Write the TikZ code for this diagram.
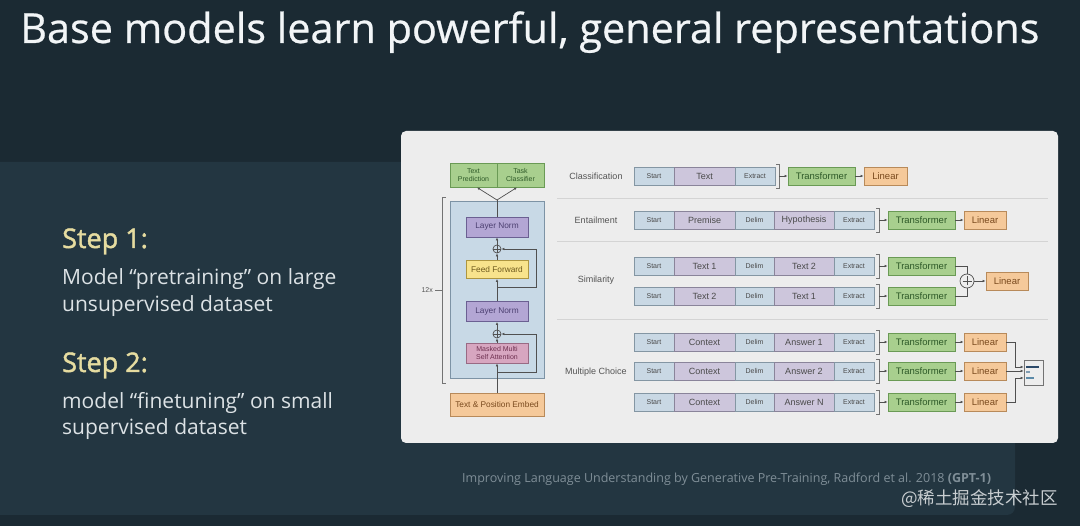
\documentclass[tikz,border=0pt]{standalone}
\usepackage{fontspec}
\setmainfont{Open Sans}
\newfontfamily\slidefont{Open Sans}
\newfontfamily\titlefont[FakeBold=0.6]{Open Sans}
\newfontfamily\stepfont[FakeBold=1.6]{Open Sans}
\newfontfamily\figfont{Liberation Sans}
\newfontfamily\cjkfont{Noto Sans CJK SC}
\usetikzlibrary{arrows.meta,calc}
\definecolor{bgdark}{HTML}{1B2A33}
\definecolor{panel}{HTML}{233641}
\definecolor{card}{HTML}{EDEDED}
\definecolor{titlec}{HTML}{F2F5F7}
\definecolor{stepc}{HTML}{E6DCA0}
\definecolor{bodyc}{HTML}{DCE2E5}
\definecolor{citec}{HTML}{7F8E97}
\definecolor{wmc}{HTML}{C9CED1}
\definecolor{tokb}{HTML}{C9D8E4}
\definecolor{tokbd}{HTML}{8496A3}
\definecolor{tokp}{HTML}{CDC6DC}
\definecolor{tokpd}{HTML}{8A849A}
\definecolor{grn}{HTML}{A8CF8E}
\definecolor{grnd}{HTML}{6A9A55}
\definecolor{grnt}{HTML}{2E5A28}
\definecolor{org}{HTML}{F5C99A}
\definecolor{orgd}{HTML}{B88A5A}
\definecolor{orgt}{HTML}{7A4A1E}
\definecolor{lnp}{HTML}{B3A6D4}
\definecolor{lnpd}{HTML}{6B6092}
\definecolor{lnpt}{HTML}{4B3F70}
\definecolor{ffy}{HTML}{F8E38C}
\definecolor{ffyd}{HTML}{AE9640}
\definecolor{ffyt}{HTML}{6E5A1E}
\definecolor{attp}{HTML}{D7A6C0}
\definecolor{attpd}{HTML}{996A84}
\definecolor{attpt}{HTML}{6E3050}
\definecolor{blk}{HTML}{C8D9E6}
\definecolor{blkd}{HTML}{7D93A5}
\definecolor{linec}{HTML}{505050}
\definecolor{sepc}{HTML}{D4D4D4}
\definecolor{labc}{HTML}{555555}
\definecolor{tokt}{HTML}{4A4A4A}
\definecolor{bar1}{HTML}{2C4A6A}
\definecolor{bar2}{HTML}{7F9CB2}
\definecolor{bar3}{HTML}{5C8AA8}
\begin{document}
\begin{tikzpicture}[x=1pt,y=-1pt,
  box/.style={draw, line width=0.8pt, inner sep=0pt, minimum height=18, align=center},
  tb/.style={box, fill=tokb, draw=tokbd, text=tokt, font=\figfont\fontsize{7}{8}\selectfont},
  tp/.style={box, fill=tokp, draw=tokpd, text=tokt, font=\figfont\fontsize{9}{10}\selectfont},
  trf/.style={box, fill=grn, draw=grnd, text=grnt, minimum width=67, font=\figfont\fontsize{9.5}{10}\selectfont},
  lin/.style={box, fill=org, draw=orgd, text=orgt, minimum width=42, font=\figfont\fontsize{9.5}{10}\selectfont},
  lbl/.style={text=labc, font=\figfont\fontsize{9}{10}\selectfont},
  ar/.style={draw=linec, line width=0.7pt, -{Latex[length=3pt,width=2.6pt]}},
  ln/.style={draw=linec, line width=0.7pt},
  brk/.style={draw=linec!80, line width=0.7pt},
  sep/.style={draw=sepc, line width=0.9pt},
  circ/.style={draw=linec, line width=0.7pt, circle, inner sep=0pt},
  steptxt/.style={anchor=base west, inner sep=0, text=stepc, font=\stepfont\fontsize{27}{32}\selectfont},
  bodytxt/.style={anchor=base west, inner sep=0, text=bodyc, font=\slidefont\fontsize{21}{24}\selectfont}
]
\useasboundingbox (0,0) rectangle (1080,526);
\fill[bgdark] (0,0) rectangle (1080,526);
\fill[panel, rounded corners=8pt] (-20,162) rectangle (1015,515);
\fill[card, rounded corners=5pt] (401,131) rectangle (1058,443);

% title and text
\node[anchor=base west, inner sep=0, text=titlec, font=\titlefont\fontsize{41.4}{48}\selectfont] (title) at (20,43) {Base models learn powerful, general representations};
\node[steptxt] (s1) at (62,248) {Step 1:};
\node[bodytxt] (s1a) at (62,285) {Model “pretraining” on large};
\node[bodytxt] (s1b) at (62,312) {unsupervised dataset};
\node[steptxt] (s2) at (62,372) {Step 2:};
\node[bodytxt] (s2a) at (62,409) {model “finetuning” on small};
\node[bodytxt] (s2b) at (62,435) {supervised dataset};
\node[anchor=base west, inner sep=0, text=citec, font=\slidefont\fontsize{12.5}{14}\selectfont] (cite) at (462,483) {Improving Language Understanding by Generative Pre-Training, Radford et al. 2018 \textbf{(GPT-1)}};
\node[anchor=base west, inner sep=0, text=wmc, font=\cjkfont\fontsize{17.5}{20}\selectfont] (wm) at (901,505) {@稀土掘金技术社区};

% ---------- left transformer diagram ----------
\node[box, fill=blk, draw=blkd, minimum width=94, minimum height=177] (blk) at (497,289.5) {};
\node[box, fill=grn, draw=grnd, text=grnt, minimum width=47, minimum height=24, font=\figfont\fontsize{7}{7.8}\selectfont] (tpr) at (473.5,175) {Text\\Prediction};
\node[box, fill=grn, draw=grnd, text=grnt, minimum width=47, minimum height=24, font=\figfont\fontsize{7}{7.8}\selectfont] (tcl) at (520.5,175) {Task\\Classifier};
\node[box, fill=lnp, draw=lnpd, text=lnpt, minimum width=62, minimum height=20, font=\figfont\fontsize{8.3}{9}\selectfont] (ln1) at (497,227) {Layer Norm};
\node[circ, minimum size=8] (c1) at (497,249) {};
\draw[linec, line width=0.6pt] (c1.north) -- (c1.south) (c1.west) -- (c1.east);
\node[box, fill=ffy, draw=ffyd, text=ffyt, minimum width=62, minimum height=18, font=\figfont\fontsize{8.3}{9}\selectfont] (ff) at (497,269.5) {Feed Forward};
\node[box, fill=lnp, draw=lnpd, text=lnpt, minimum width=62, minimum height=20, font=\figfont\fontsize{8.3}{9}\selectfont] (ln2) at (497,311.5) {Layer Norm};
\node[circ, minimum size=8] (c2) at (497,334) {};
\draw[linec, line width=0.6pt] (c2.north) -- (c2.south) (c2.west) -- (c2.east);
\node[box, fill=attp, draw=attpd, text=attpt, minimum width=62, minimum height=20, font=\figfont\fontsize{7}{7.8}\selectfont] (att) at (497,353) {Masked Multi\\Self Attention};
\node[box, fill=org, draw=orgd, text=orgt, minimum width=94, minimum height=23, font=\figfont\fontsize{8.3}{9}\selectfont] (emb) at (497,404.5) {Text \& Position Embed};

\coordinate (r2) at (497,372);
\coordinate (r1) at (497,287);
\coordinate (spl) at (497,200);
\draw[ln] (emb.north) -- (r2);
\draw[ar] (r2) -- (att.south);
\draw[ar] (att.north) -- (c2.south);
\draw[ar] (c2.north) -- (ln2.south);
\draw[ln] (ln2.north) -- (r1);
\draw[ar] (r1) -- (ff.south);
\draw[ar] (ff.north) -- (c1.south);
\draw[ar] (c1.north) -- (ln1.south);
\draw[ln] (ln1.north) -- (spl);
\draw[ar] (spl) -- ([xshift=3.5]tpr.south);
\draw[ar] (spl) -- ([xshift=-3.5]tcl.south);
\draw[ar] (r2) -- (536,372) -- (536,334) -- (c2.east);
\draw[ar] (r1) -- (536,287) -- (536,249) -- (c1.east);

% 12x bracket
\draw[brk] (446,197) -- (442,197) -- (442,383) -- (446,383);
\coordinate (bm) at (442,290);
\node[anchor=east, inner sep=0, text=labc, font=\figfont\fontsize{7}{8}\selectfont] (tw) at (433,290) {12x};
\draw[brk] ([xshift=2]tw.east) -- (bm);

% separators
\draw[sep] (557,198) -- (1048,198);
\draw[sep] (557,241) -- (1048,241);
\draw[sep] (557,319) -- (1048,319);

% ---------- Classification ----------
\node[lbl] (lcls) at (596,176) {Classification};
\node[tb, minimum width=40] (cS) at (654,176) {Start};
\node[tp, minimum width=61] (cT) at (704.5,176) {Text};
\node[tb, minimum width=40] (cE) at (755,176) {Extract};
\draw[brk] (776,164) -- (779,164) -- (779,188) -- (776,188);
\coordinate (cB) at (779,176);
\node[trf] (cTr) at (821.5,176) {Transformer};
\node[lin, minimum width=43] (cL) at (885.5,176) {Linear};
\draw[ar] (cB) -- (cTr.west);
\draw[ar] (cTr.east) -- (cL.west);

% ---------- Entailment ----------
\node[lbl] (lent) at (596,220) {Entailment};
\node[tb, minimum width=40] (eS) at (654,220) {Start};
\node[tp, minimum width=61] (eP) at (704.5,220) {Premise};
\node[tb, minimum width=39] (eD) at (754.5,220) {Delim};
\node[tp, minimum width=60] (eH) at (804,220) {Hypothesis};
\node[tb, minimum width=40] (eE) at (854,220) {Extract};
\draw[brk] (876,208) -- (879,208) -- (879,232) -- (876,232);
\coordinate (eB) at (879,220);
\node[trf] (eTr) at (921.5,220) {Transformer};
\node[lin] (eL) at (985,220) {Linear};
\draw[ar] (eB) -- (eTr.west);
\draw[ar] (eTr.east) -- (eL.west);

% ---------- Similarity ----------
\node[lbl] (lsim) at (596,280) {Similarity};
\node[tb, minimum width=40] (s1S) at (654,266) {Start};
\node[tp, minimum width=61] (s1T) at (704.5,266) {Text 1};
\node[tb, minimum width=39] (s1D) at (754.5,266) {Delim};
\node[tp, minimum width=60] (s1U) at (804,266) {Text 2};
\node[tb, minimum width=40] (s1E) at (854,266) {Extract};
\draw[brk] (876,254) -- (879,254) -- (879,278) -- (876,278);
\coordinate (s1B) at (879,266);
\node[trf] (s1Tr) at (921.5,266) {Transformer};
\draw[ar] (s1B) -- (s1Tr.west);
\node[tb, minimum width=40] (s2S) at (654,296) {Start};
\node[tp, minimum width=61] (s2T) at (704.5,296) {Text 2};
\node[tb, minimum width=39] (s2D) at (754.5,296) {Delim};
\node[tp, minimum width=60] (s2U) at (804,296) {Text 1};
\node[tb, minimum width=40] (s2E) at (854,296) {Extract};
\draw[brk] (876,284) -- (879,284) -- (879,308) -- (876,308);
\coordinate (s2B) at (879,296);
\node[trf] (s2Tr) at (921.5,296) {Transformer};
\draw[ar] (s2B) -- (s2Tr.west);
\node[circ, minimum size=14, fill=card] (sp) at (967,281) {};
\draw[linec, line width=0.7pt] ([yshift=-4.5]sp.center) -- ([yshift=4.5]sp.center) ([xshift=-4.5]sp.center) -- ([xshift=4.5]sp.center);
\node[lin] (sL) at (1007,281) {Linear};
\draw[ln] (s1Tr.east) -| (sp.north);
\draw[ln] (s2Tr.east) -| (sp.south);
\draw[ar] (sp.east) -- (sL.west);

% ---------- Multiple choice ----------
\node[lbl] (lmc) at (596,372) {Multiple Choice};
\foreach \r/\cy/\ans in {1/342/Answer 1, 2/371/Answer 2, 3/402/Answer N}{
  \node[tb, minimum width=40] (m\r S) at (654,\cy) {Start};
  \node[tp, minimum width=61] (m\r C) at (704.5,\cy) {Context};
  \node[tb, minimum width=39] (m\r D) at (754.5,\cy) {Delim};
  \node[tp, minimum width=60] (m\r A) at (804,\cy) {\ans};
  \node[tb, minimum width=40] (m\r E) at (854,\cy) {Extract};
  \draw[brk] (876,\cy-12) -- (879,\cy-12) -- (879,\cy+12) -- (876,\cy+12);
  \coordinate (m\r B) at (879,\cy);
  \node[trf] (m\r Tr) at (921.5,\cy) {Transformer};
  \node[lin] (m\r L) at (985,\cy) {Linear};
  \draw[ar] (m\r B) -- (m\r Tr.west);
  \draw[ar] (m\r Tr.east) -- (m\r L.west);
}
\node[draw=linec!80, line width=0.7pt, fill=card, minimum width=19, minimum height=25, inner sep=0] (smx) at (1033.5,372.5) {};
\fill[bar1] (1025.5,366) rectangle (1039,368.5);
\fill[bar2] (1025.5,371) rectangle (1029.5,373.5);
\fill[bar3] (1025.5,377) rectangle (1034,379.5);
\draw[ar] (m1L.east) -- (1015,342) -- (1015,367) -- (smx.west |- 0,367);
\draw[ar] (m2L.east) -- (smx.west |- 0,371);
\draw[ar] (m3L.east) -- (1015,402) -- (1015,378) -- (smx.west |- 0,378);
\end{tikzpicture}
\end{document}
